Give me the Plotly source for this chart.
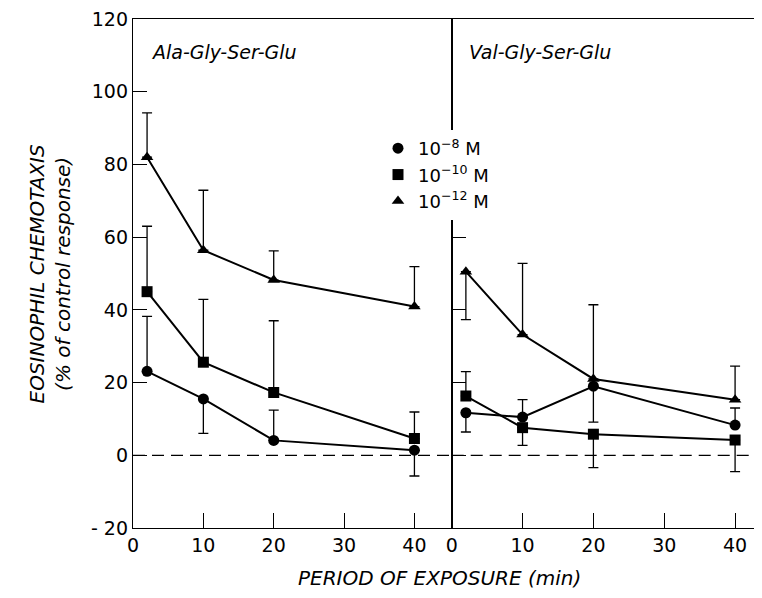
import plotly.graph_objects as go

# ---------------- data ----------------
time_ala = [2, 10, 20, 40]
time_val = [2, 10, 20, 40]

ala_m8 = [23.1, 15.5, 4.1, 1.4]
ala_m8_up = [15.1, 0, 8.3, 0]
ala_m8_dn = [0, 9.5, 0, 7.1]

ala_m10 = [45.0, 25.6, 17.3, 4.6]
ala_m10_up = [18.0, 17.3, 19.7, 7.3]
ala_m10_dn = [0, 0, 0, 0]

ala_m12 = [82.0, 56.4, 48.2, 40.9]
ala_m12_up = [12.2, 16.5, 8.0, 11.0]
ala_m12_dn = [0, 0, 0, 0]

val_m8 = [11.7, 10.5, 19.0, 8.3]
val_m8_up = [0, 4.8, 0, 4.7]
val_m8_dn = [5.3, 0, 9.9, 0]

val_m10 = [16.3, 7.6, 5.8, 4.2]
val_m10_up = [6.7, 0, 0, 0]
val_m10_dn = [0, 4.9, 9.2, 8.7]

val_m12 = [50.5, 33.2, 21.0, 15.3]
val_m12_up = [0, 19.6, 20.4, 9.2]
val_m12_dn = [13.2, 0, 0, 0]

legend_names = ["10<sup>\u22128</sup> M", "10<sup>\u221210</sup> M", "10<sup>\u221212</sup> M"]
symbols = ["circle", "square", "triangle-up"]
panel_titles = ["Ala-Gly-Ser-Glu", "Val-Gly-Ser-Glu"]
x_ticks = [0, 10, 20, 30, 40]
y_ticks_left = [-20, 0, 20, 40, 60, 80, 100, 120]
y_tick_text_left = ["- 20", "0", "20", "40", "60", "80", "100", "120"]
y_ticks_right = [0, 20, 40, 60]

FONT = "DejaVu Sans"
fig = go.Figure()

def add_series(x, y, up, dn, sym, xa, ya):
    fig.add_trace(go.Scatter(
        x=x, y=y, mode="lines+markers", xaxis=xa, yaxis=ya, showlegend=False,
        line=dict(color="black", width=2),
        marker=dict(symbol=sym, size=11, color="black"),
        error_y=dict(type="data", symmetric=False, array=up, arrayminus=dn,
                     color="black", thickness=1.3, width=5),
    ))

add_series(time_ala, ala_m8, ala_m8_up, ala_m8_dn, symbols[0], "x", "y")
add_series(time_ala, ala_m10, ala_m10_up, ala_m10_dn, symbols[1], "x", "y")
add_series(time_ala, ala_m12, ala_m12_up, ala_m12_dn, symbols[2], "x", "y")
add_series(time_val, val_m8, val_m8_up, val_m8_dn, symbols[0], "x2", "y2")
add_series(time_val, val_m10, val_m10_up, val_m10_dn, symbols[1], "x2", "y2")
add_series(time_val, val_m12, val_m12_up, val_m12_dn, symbols[2], "x2", "y2")

for name, sym in zip(legend_names, symbols):
    fig.add_trace(go.Scatter(x=[None], y=[None], mode="markers", name=name,
                             marker=dict(symbol=sym, size=11, color="black"),
                             xaxis="x", yaxis="y"))

split = 0.5067
axis_common = dict(showgrid=False, zeroline=False, showline=True, linecolor="black",
                   linewidth=1.3, ticks="inside", tickcolor="black", tickwidth=1.3,
                   ticklabeloverflow="allow",
                   tickfont=dict(family=FONT, size=19, color="black"))

fig.update_layout(
    width=754, height=590,
    margin=dict(l=125, r=0, t=8, b=70),
    paper_bgcolor="white", plot_bgcolor="white",
    xaxis=dict(domain=[0, split], range=[0, 45.3], tickvals=x_ticks, ticklen=15,
               mirror=True, **axis_common),
    xaxis2=dict(domain=[split, 1], range=[0, 43.8], tickvals=x_ticks, ticklen=15,
                mirror=True, anchor="y2", **axis_common),
    yaxis=dict(domain=[0, 1], range=[-20, 120], tickvals=y_ticks_left,
               ticktext=y_tick_text_left, ticklen=14,
               mirror=True, anchor="x", **axis_common),
    yaxis2=dict(domain=[0, 1], range=[-20, 120], tickvals=y_ticks_right, ticklen=14,
                showticklabels=False, anchor="x2", **axis_common),
    showlegend=True,
    legend=dict(x=0.3895, xanchor="left", y=0.782, yanchor="top",
                bgcolor="white", borderwidth=0, itemwidth=30,
                font=dict(family=FONT, size=18, color="black"),
                tracegroupgap=0),
)

# dashed zero lines
for xr, yr in [("x domain", "y"), ("x2 domain", "y2")]:
    fig.add_shape(type="line", xref=xr, yref=yr, x0=0, x1=1, y0=0, y1=0,
                  line=dict(color="black", width=1.2, dash="12px,7px"))

# panel titles
fig.add_annotation(text=panel_titles[0], xref="x domain", yref="paper", x=0.05, y=0.935,
                   xanchor="left", yanchor="middle", showarrow=False,
                   font=dict(family=FONT, size=19, color="black", style="italic"))
fig.add_annotation(text=panel_titles[1], xref="x2 domain", yref="paper", x=0.05, y=0.935,
                   xanchor="left", yanchor="middle", showarrow=False,
                   font=dict(family=FONT, size=19, color="black", style="italic"))

# axis titles
fig.add_annotation(text="EOSINOPHIL CHEMOTAXIS<br>(% of control response)",
                   xref="paper", yref="paper", x=-0.132, y=0.5, textangle=-90,
                   xanchor="center", yanchor="middle", showarrow=False,
                   font=dict(family=FONT, size=20, color="black", style="italic"))
fig.add_annotation(text="PERIOD OF EXPOSURE (min)",
                   xref="paper", yref="paper", x=0.487, y=-0.098,
                   xanchor="center", yanchor="middle", showarrow=False,
                   font=dict(family=FONT, size=20, color="black", style="italic"))

fig.write_html("out.html")
